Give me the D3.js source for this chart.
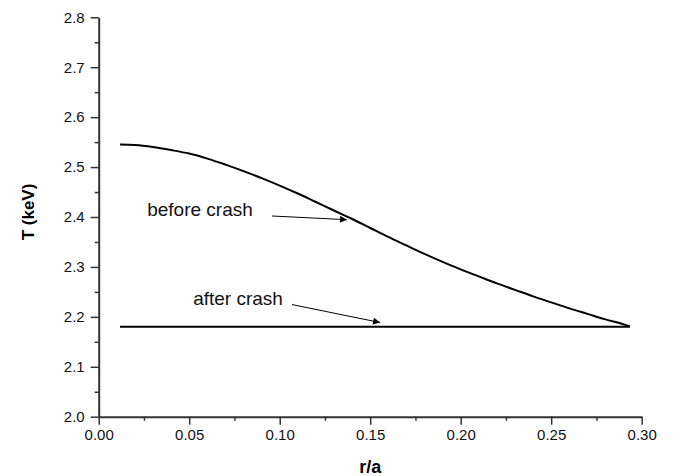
<!DOCTYPE html>
<html>
<head>
<meta charset="utf-8">
<script src="https://cdn.jsdelivr.net/npm/d3@7"></script>
<style>
  html, body { margin: 0; padding: 0; background: #fff; }
  svg { display: block; font-family: Arial, "Liberation Sans", sans-serif; }
</style>
</head>
<body>
<svg id="chart" width="683" height="476"></svg>
<script>
// Temperature profile before the crash
const rBefore = [0.0118, 0.020, 0.030, 0.040, 0.050, 0.060, 0.070, 0.080, 0.090, 0.100, 0.110, 0.120, 0.130, 0.140, 0.150, 0.160, 0.170, 0.180, 0.190, 0.200, 0.210, 0.220, 0.230, 0.240, 0.250, 0.260, 0.270, 0.280, 0.290, 0.2935];
const tBefore = [2.545, 2.544, 2.540, 2.534, 2.527, 2.517, 2.505, 2.492, 2.478, 2.463, 2.447, 2.430, 2.413, 2.396, 2.378, 2.360, 2.343, 2.326, 2.310, 2.295, 2.281, 2.267, 2.254, 2.241, 2.229, 2.217, 2.206, 2.195, 2.185, 2.181];
// Flat profile after the crash
const rAfter = [0.0118, 0.2935];
const tAfter = [2.18, 2.18];

const xTicks = [0.00, 0.05, 0.10, 0.15, 0.20, 0.25, 0.30];
const yTicks = [2.0, 2.1, 2.2, 2.3, 2.4, 2.5, 2.6, 2.7, 2.8];

// Annotations: label, label anchor, arrow tail, arrow head (data units)
const notes = [
  { text: "before crash", lx: 0.0268, ly: 2.403, x1: 0.0958, y1: 2.402, x2: 0.1372, y2: 2.3946 },
  { text: "after crash",  lx: 0.0522, ly: 2.224, x1: 0.1068, y1: 2.2246, x2: 0.1555, y2: 2.1886 }
];

const svg = d3.select("#chart");
const plotLeft = 98.7, plotRight = 641.7, plotTop = 17.3, plotBottom = 416.7;

const x = d3.scaleLinear().domain([0, 0.30]).range([plotLeft, plotRight]);
const y = d3.scaleLinear().domain([2.0, 2.8]).range([plotBottom, plotTop]);

svg.append("defs").append("marker")
  .attr("id", "arrow")
  .attr("viewBox", "0 0 10 10")
  .attr("refX", 10).attr("refY", 5)
  .attr("markerWidth", 10).attr("markerHeight", 7)
  .attr("markerUnits", "userSpaceOnUse")
  .attr("orient", "auto")
  .append("path")
  .attr("d", "M0,0 L10,5 L0,10 Z")
  .attr("fill", "#000");

// Minor ticks between the labelled ones
const xMinor = [0.025, 0.075, 0.125, 0.175, 0.225, 0.275];
const yMinor = [2.05, 2.15, 2.25, 2.35, 2.45, 2.55, 2.65, 2.75];

const axisColor = "#333";

// X axis
const gx = svg.append("g").attr("transform", `translate(0,${plotBottom})`);
gx.call(d3.axisBottom(x).tickValues(xTicks).tickFormat(d3.format(".2f")).tickSize(8).tickSizeOuter(0).tickPadding(5));
gx.append("g").call(d3.axisBottom(x).tickValues(xMinor).tickFormat("").tickSize(4))
  .select(".domain").remove();

// Y axis
const gy = svg.append("g").attr("transform", `translate(${plotLeft},0)`);
gy.call(d3.axisLeft(y).tickValues(yTicks).tickFormat(d3.format(".1f")).tickSize(8).tickSizeOuter(0).tickPadding(6));
gy.append("g").call(d3.axisLeft(y).tickValues(yMinor).tickFormat("").tickSize(4))
  .select(".domain").remove();

svg.selectAll(".domain").attr("stroke", axisColor).attr("stroke-width", 2);
svg.selectAll(".tick line").attr("stroke", axisColor).attr("stroke-width", 1.5);
svg.selectAll(".tick text").attr("font-size", 15).attr("fill", "#111")
  .attr("font-family", "Arial, 'Liberation Sans', sans-serif");

// Axis titles
svg.append("text")
  .attr("x", (plotLeft + plotRight) / 2).attr("y", 473)
  .attr("text-anchor", "middle")
  .attr("font-weight", "bold").attr("font-size", 18)
  .text("r/a");

svg.append("text")
  .attr("transform", `translate(34,212) rotate(-90)`)
  .attr("text-anchor", "middle")
  .attr("font-weight", "bold").attr("font-size", 17)
  .text("T (keV)");

// Curves
const line = d3.line().x(d => x(d[0])).y(d => y(d[1])).curve(d3.curveMonotoneX);

svg.append("path")
  .datum(rBefore.map((r, i) => [r, tBefore[i]]))
  .attr("d", line)
  .attr("fill", "none").attr("stroke", "#000").attr("stroke-width", 2);

svg.append("path")
  .datum(rAfter.map((r, i) => [r, tAfter[i]]))
  .attr("d", line)
  .attr("fill", "none").attr("stroke", "#000").attr("stroke-width", 2);

// Annotations with arrows
notes.forEach(n => {
  svg.append("text")
    .attr("x", x(n.lx)).attr("y", y(n.ly))
    .attr("font-size", 19).attr("fill", "#111")
    .text(n.text);
  svg.append("line")
    .attr("x1", x(n.x1)).attr("y1", y(n.y1))
    .attr("x2", x(n.x2)).attr("y2", y(n.y2))
    .attr("stroke", "#000").attr("stroke-width", 1)
    .attr("marker-end", "url(#arrow)");
});
</script>
</body>
</html>
